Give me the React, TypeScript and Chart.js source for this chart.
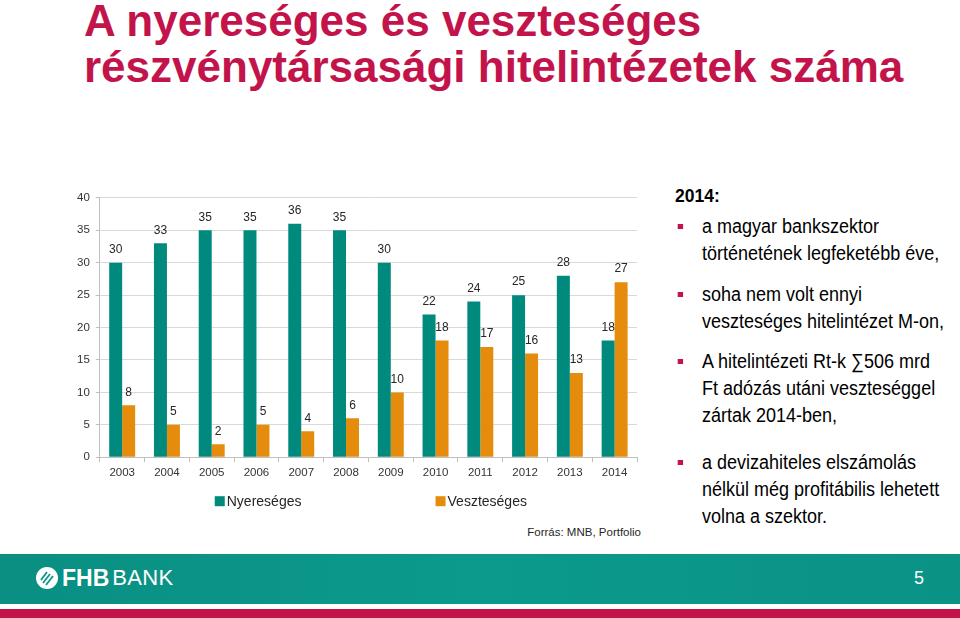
import React, { useEffect, useRef } from "react";
import { Chart, registerables } from "chart.js";

Chart.register(...registerables);

const years = ["2003", "2004", "2005", "2006", "2007", "2008", "2009", "2010", "2011", "2012", "2013", "2014"];
const nyereseges = [30, 33, 35, 35, 36, 35, 30, 22, 24, 25, 28, 18];
const veszteseges = [8, 5, 2, 5, 4, 6, 10, 18, 17, 16, 13, 27];
const seriesNames = ["Nyereséges", "Veszteséges"];
const yMin = 0;
const yMax = 40;
const yStep = 5;

const TEAL = "#008a7e";
const ORANGE = "#e58c0c";
const CRIMSON = "#c2144b";
const FONT = '"Liberation Sans", Arial, sans-serif';

const title1 = "A nyereséges és veszteséges";
const title2 = "részvénytársasági hitelintézetek száma";
const source = "Forrás: MNB, Portfolio";
const heading = "2014:";
const bullets = [
  ["a magyar bankszektor", "történetének legfeketébb éve,"],
  ["soha nem volt ennyi", "veszteséges hitelintézet M-on,"],
  ["A hitelintézeti Rt-k ∑506 mrd", "Ft adózás utáni veszteséggel", "zártak 2014-ben,"],
  ["a devizahiteles elszámolás", "nélkül még profitábilis lehetett", "volna a szektor."],
];
const bulletTops = [213, 281, 348, 449];
const legendFractions = [0.214, 0.625];

const valueLabels = {
  id: "valueLabels",
  afterDatasetsDraw(chart: any) {
    const ctx = chart.ctx;
    ctx.save();
    ctx.font = `12px ${FONT}`;
    ctx.fillStyle = "#262626";
    ctx.textAlign = "center";
    ctx.textBaseline = "bottom";
    chart.data.datasets.forEach((ds: any, i: number) => {
      const meta = chart.getDatasetMeta(i);
      meta.data.forEach((el: any, j: number) => {
        ctx.fillText(String(ds.data[j]), el.x, el.y - 7);
      });
    });
    ctx.restore();
  },
};

const customLegend = {
  id: "customLegend",
  afterDraw(chart: any) {
    const { ctx, chartArea } = chart;
    const w = chartArea.right - chartArea.left;
    const y = chartArea.bottom + 44;
    ctx.save();
    ctx.font = `14px ${FONT}`;
    ctx.textBaseline = "middle";
    ctx.textAlign = "left";
    chart.data.datasets.forEach((ds: any, i: number) => {
      const x = chartArea.left + w * legendFractions[i];
      ctx.fillStyle = ds.backgroundColor;
      ctx.fillRect(x, y - 5, 10, 10);
      ctx.fillStyle = "#262626";
      ctx.fillText(ds.label, x + 12, y + 1);
    });
    ctx.restore();
  },
};

function BarChart() {
  const ref = useRef<HTMLCanvasElement>(null);
  useEffect(() => {
    if (!ref.current) return;
    const chart = new Chart(ref.current, {
      type: "bar",
      data: {
        labels: years,
        datasets: [
          { label: seriesNames[0], data: nyereseges, backgroundColor: TEAL, categoryPercentage: 0.58, barPercentage: 1 },
          { label: seriesNames[1], data: veszteseges, backgroundColor: ORANGE, categoryPercentage: 0.58, barPercentage: 1 },
        ],
      },
      options: {
        animation: false,
        responsive: true,
        maintainAspectRatio: false,
        layout: { padding: { left: 11, top: 9, right: 13, bottom: 31 } },
        plugins: { legend: { display: false }, tooltip: { enabled: false } },
        scales: {
          x: {
            offset: true,
            grid: { display: true, drawOnChartArea: false, offset: true, tickLength: 5, color: "#bfbfbf" },
            border: { color: "#bfbfbf" },
            ticks: { font: { family: FONT, size: 11.5 }, color: "#333", padding: 4 },
          },
          y: {
            min: yMin,
            max: yMax,
            ticks: { stepSize: yStep, font: { family: FONT, size: 11.5 }, color: "#333", padding: 6 },
            grid: { color: "#d9d9d9", tickLength: 4, tickColor: "#bfbfbf" },
            border: { color: "#bfbfbf" },
          },
        },
      },
      plugins: [valueLabels, customLegend],
    });
    return () => chart.destroy();
  }, []);
  return (
    <div style={{ position: "absolute", left: 60, top: 185, width: 590, height: 330 }}>
      <canvas ref={ref} />
    </div>
  );
}

export default function App() {
  return (
    <div style={{ position: "absolute", left: 0, top: 0, width: 960, height: 618, background: "#fff", overflow: "hidden", fontFamily: FONT }}>
      <div style={{ position: "absolute", left: 84, top: -2, fontSize: 44, lineHeight: "46px", fontWeight: "bold", color: CRIMSON, whiteSpace: "nowrap" }}>
        <div>{title1}</div>
        <div>{title2}</div>
      </div>
      <BarChart />
      <div style={{ position: "absolute", right: 319, top: 526, fontSize: 11.5, color: "#262626", whiteSpace: "nowrap" }}>{source}</div>
      <div style={{ position: "absolute", left: 675, top: 186, fontSize: 17.5, fontWeight: "bold", color: "#000" }}>{heading}</div>
      {bullets.map((lines, i) => (
        <div key={i} style={{ position: "absolute", left: 702, top: bulletTops[i], fontSize: 20, lineHeight: "27px", color: "#000", whiteSpace: "nowrap", transform: "scaleX(0.9)", transformOrigin: "0 0" }}>
          <div style={{ position: "absolute", left: -27, top: 11, width: 6, height: 5, background: CRIMSON }} />
          {lines.map((l, k) => (
            <div key={k}>{l}</div>
          ))}
        </div>
      ))}
      <div style={{ position: "absolute", left: 0, top: 554, width: 960, height: 50, background: "linear-gradient(90deg, #0a8f82, #0b9a8c 50%, #0a9285)" }} />
      <div style={{ position: "absolute", left: 0, top: 609, width: 960, height: 9, background: CRIMSON }} />
      <div style={{ position: "absolute", left: 36, top: 567, height: 22, display: "flex", alignItems: "center", color: "#fff" }}>
        <svg width="22" height="22" viewBox="0 0 22 22" style={{ marginRight: 4 }}>
          <circle cx="11" cy="11" r="11" fill="#fff" />
          <line x1="5" y1="13" x2="11" y2="5" stroke="#0b968a" strokeWidth="1.8" />
          <line x1="7" y1="16" x2="14" y2="7" stroke="#0b968a" strokeWidth="1.8" />
          <line x1="10" y1="18" x2="17" y2="9" stroke="#0b968a" strokeWidth="1.8" />
        </svg>
        <span style={{ fontWeight: "bold", fontSize: 23 }}>FHB</span>
        <span style={{ fontSize: 22, marginLeft: 3, letterSpacing: 0.3 }}>BANK</span>
      </div>
      <div style={{ position: "absolute", left: 914, top: 568, fontSize: 18, color: "#fff" }}>5</div>
    </div>
  );
}
